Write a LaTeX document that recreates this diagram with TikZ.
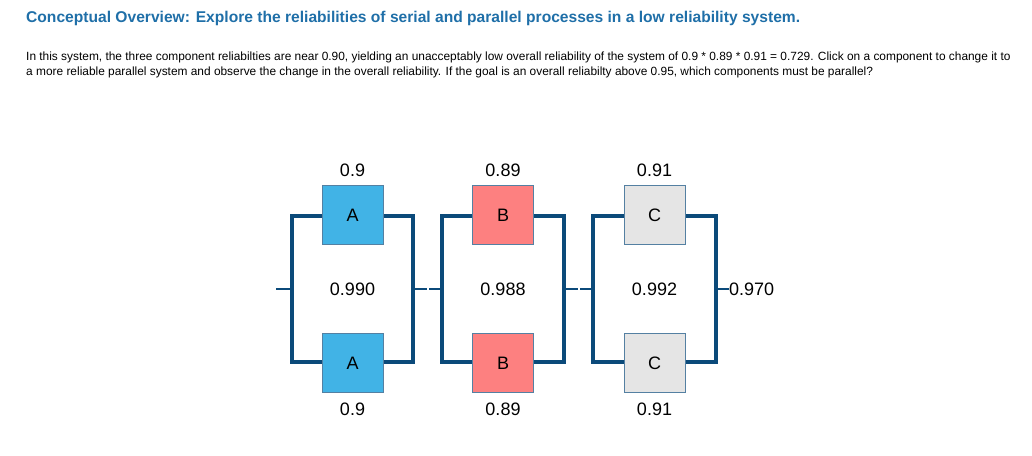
\documentclass[tikz,border=0pt]{standalone}
\usepackage{fontspec}
\setmainfont{Liberation Sans}
\begin{document}
\begin{tikzpicture}[x=1pt,y=-1pt,
  rail/.style={draw=railc,line width=4pt},
  comp/.style={draw=railc!70,line width=0.6pt,minimum width=61pt,minimum height=59pt,inner sep=0pt,font=\fontsize{18}{20}\selectfont},
  lbl/.style={font=\fontsize{18}{20}\selectfont,inner sep=0pt}]
\definecolor{railc}{HTML}{0B4A7A}
\definecolor{titc}{HTML}{1F6FA8}
\definecolor{ca}{HTML}{41B3E6}
\definecolor{cb}{HTML}{FD8080}
\definecolor{cc}{HTML}{E5E5E5}
\useasboundingbox (0,0) rectangle (1032,455);
\node[anchor=west,inner sep=0pt,text=titc,font=\bfseries\fontsize{15.6}{18}\selectfont] (title) at (26,18) {Conceptual Overview: Explore the reliabilities of serial and parallel processes in a low reliability system.};
\node[anchor=west,inner sep=0pt,font=\fontsize{11.9}{14}\selectfont] (p1) at (26,57) {In this system, the three component reliabilties are near 0.90, yielding an unacceptably low overall reliability of the system of 0.9 * 0.89 * 0.91 = 0.729. Click on a component to change it to};
\node[anchor=west,inner sep=0pt,font=\fontsize{11.9}{14}\selectfont] (p2) at (26,72) {a more reliable parallel system and observe the change in the overall reliability. If the goal is an overall reliabilty above 0.95, which components must be parallel?};
% groups
\foreach \n/\l/\r/\c/\t/\v/\m in {A/292/413/ca/A/0.9/0.990, B/442/564/cb/B/0.89/0.988, C/593/716/cc/C/0.91/0.992}{
  \coordinate (\n tl) at (\l,216); \coordinate (\n tr) at (\r,216);
  \coordinate (\n bl) at (\l,362); \coordinate (\n br) at (\r,362);
  \coordinate (\n ml) at (\l,289); \coordinate (\n mr) at (\r,289);
  \draw[rail] (\n tr) -| (\n br) -- (\n bl) |- (\n tl) -- cycle;
  \node[comp,fill=\c] (\n1) at ({(\l+\r)/2},215) {\t};
  \node[comp,fill=\c] (\n2) at ({(\l+\r)/2},363) {\t};
  \node[lbl] (\n v1) at ({(\l+\r)/2},170) {\v};
  \node[lbl] (\n v2) at ({(\l+\r)/2},409) {\v};
  \node[lbl] (\n m) at ({(\l+\r)/2},289) {\m};
}
\coordinate (in) at (276,289);
\coordinate (ab) at (428,289);
\coordinate (bc) at (579,289);
\node[lbl,anchor=west] (out) at (729,289) {0.970};
\draw[draw=railc,line width=2.5pt] (in) -- (Aml);
\draw[draw=railc,line width=2.5pt] (Amr) -- ([xshift=-1pt]ab);
\draw[draw=railc,line width=2.5pt] ([xshift=1pt]ab) -- (Bml);
\draw[draw=railc,line width=2.5pt] (Bmr) -- ([xshift=-1pt]bc);
\draw[draw=railc,line width=2.5pt] ([xshift=1pt]bc) -- (Cml);
\draw[draw=railc,line width=2.5pt] (Cmr) -- (out.west);
\end{tikzpicture}
\end{document}
